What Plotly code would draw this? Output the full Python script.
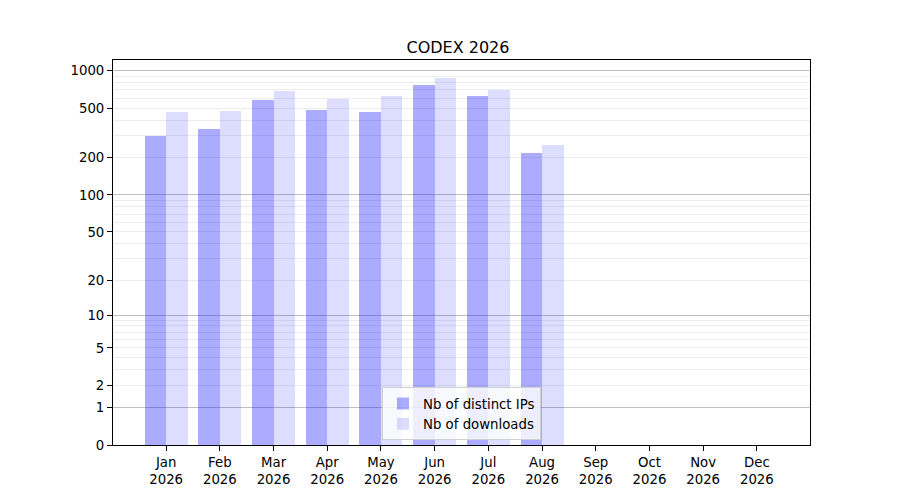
import plotly.graph_objects as go

# monthly values for 2026 (Sep-Dec not yet available)
months = ["Jan", "Feb", "Mar", "Apr", "May", "Jun", "Jul", "Aug", "Sep", "Oct", "Nov", "Dec"]
year = "2026"
distinct_ips = [301, 343, 587, 487, 470, 774, 631, 220, 0, 0, 0, 0]
downloads = [470, 479, 693, 598, 631, 881, 702, 255, 0, 0, 0, 0]

y_ticks = [0, 1, 2, 5, 10, 20, 50, 100, 200, 500, 1000]
major_grid = [1, 10, 100, 1000]
minor_grid = [2, 3, 4, 5, 6, 7, 8, 9, 20, 30, 40, 50, 60, 70, 80, 90,
              200, 300, 400, 500, 600, 700, 800, 900]

# axis shows log10(1 + value); bars start at 1 (= value 0)
xs = list(range(len(months)))
xlabels = [m + "<br>" + year for m in months]
font = "DejaVu Sans, Verdana, sans-serif"

fig = go.Figure()
fig.add_trace(go.Bar(x=xs, y=distinct_ips, base=[1] * len(xs), offset=-0.4, width=0.4,
                     name="Nb of distinct IPs", marker_color="rgba(0,0,255,0.33)",
                     marker_line_width=0))
fig.add_trace(go.Bar(x=xs, y=downloads, base=[1] * len(xs), offset=0.0, width=0.4,
                     name="Nb of downloads", marker_color="rgba(0,0,255,0.135)",
                     marker_line_width=0))
# invisible trace to carry the darker major grid
fig.add_trace(go.Scatter(x=[0], y=[1], yaxis="y2", mode="markers",
                         marker_opacity=0, showlegend=False, hoverinfo="skip"))

yr = [0, 3.086]
fig.update_layout(
    width=900, height=500,
    plot_bgcolor="white", paper_bgcolor="white",
    margin=dict(l=105, r=98, t=52, b=63),
    font=dict(family=font, size=13.3, color="black"),
    title=dict(text="CODEX 2026", x=0.5, xanchor="center", y=0.91, yanchor="bottom",
               font=dict(size=16)),
    barmode="overlay",
    xaxis=dict(range=[-0.99, 11.99], tickvals=xs, ticktext=xlabels,
               showgrid=False, zeroline=False, showline=True, linecolor="black",
               linewidth=1, mirror=True, ticks="outside", ticklen=5, tickcolor="black"),
    yaxis=dict(type="log", range=yr, tickvals=[t + 1 for t in y_ticks],
               ticktext=[str(t) for t in y_ticks],
               showgrid=False, zeroline=False, showline=True, linecolor="black",
               linewidth=1, mirror=True, ticks="outside", ticklen=5, tickcolor="black",
               minor=dict(tickvals=[m + 1 for m in minor_grid], showgrid=True,
                          gridcolor="#ededed", gridwidth=1, ticks="")),
    yaxis2=dict(type="log", range=yr, overlaying="y", side="left",
                tickvals=[m + 1 for m in major_grid], showticklabels=False,
                showgrid=True, gridcolor="#c0c0c0", gridwidth=1, ticks="",
                zeroline=False, showline=False),
    legend=dict(x=0.5, y=0.012, xanchor="center", yanchor="bottom",
                bgcolor="rgba(255,255,255,0.8)", bordercolor="#d0d0d0", borderwidth=1,
                font=dict(size=13.3), traceorder="normal"),
    bargap=0,
)

fig.write_html("out.html")
